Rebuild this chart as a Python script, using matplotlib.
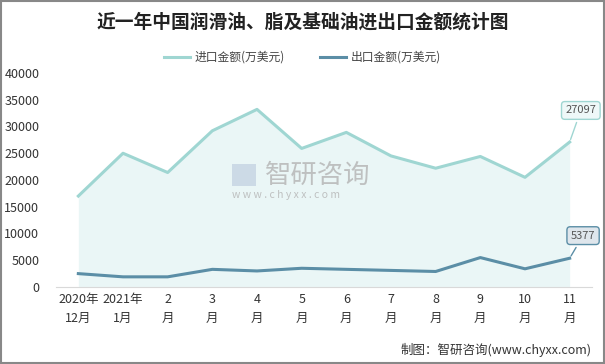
import matplotlib
matplotlib.use("Agg")
import matplotlib.pyplot as plt
from matplotlib.patches import Rectangle

plt.rcParams['font.family'] = ['Noto Sans CJK SC', 'DejaVu Sans']

categories = ["2020年\n12月", "2021年\n1月", "2\n月", "3\n月", "4\n月", "5\n月",
              "6\n月", "7\n月", "8\n月", "9\n月", "10\n月", "11\n月"]
import_vals = [17000, 25000, 21400, 29200, 33200, 25900, 28900, 24500, 22200, 24400, 20500, 27097]
export_vals = [2500, 1900, 1900, 3300, 3000, 3500, 3300, 3100, 2900, 5500, 3400, 5377]
yticks = [0, 5000, 10000, 15000, 20000, 25000, 30000, 35000, 40000]

c_imp = "#9fd6d2"
c_fill = "#eaf6f6"
c_exp = "#5b8ea6"

fig = plt.figure(figsize=(6.05, 3.64), dpi=100)
ax = fig.add_axes([56/605, (364-287)/364, (592-56)/605, (287-73)/364])
x = list(range(len(categories)))

ax.fill_between(x, import_vals, 0, color=c_fill, lw=0, zorder=1)
ax.plot(x, import_vals, color=c_imp, lw=2.2, label="进口金额(万美元)", zorder=3)
ax.plot(x, export_vals, color=c_exp, lw=2.2, label="出口金额(万美元)", zorder=3)

ax.set_xlim(-0.5, len(categories) - 0.5)
ax.set_ylim(0, 40000)
ax.set_yticks(yticks)
ax.set_yticklabels([str(v) for v in yticks], fontsize=9, color="#333333")
ax.set_xticks(x)
ax.set_xticklabels(categories, fontsize=9, color="#333333", linespacing=1.6)
ax.tick_params(length=0, pad=4)
ax.tick_params(axis='y', pad=12)
for s in ["top", "right", "left"]:
    ax.spines[s].set_visible(False)
ax.spines["bottom"].set_color("#d9d9d9")

# callouts
ax.annotate(str(import_vals[-1]), xy=(x[-1], import_vals[-1]), xytext=(x[-1] + 0.25, 33000),
            ha="center", va="center", fontsize=8, color="#555555",
            bbox=dict(boxstyle="round,pad=0.35,rounding_size=0.3", fc="#eef8f8", ec=c_imp, lw=1),
            arrowprops=dict(arrowstyle="-", color=c_imp, lw=1), zorder=5)
ax.annotate(str(export_vals[-1]), xy=(x[-1], export_vals[-1]), xytext=(x[-1] + 0.3, 9600),
            ha="center", va="center", fontsize=8, color="#555555",
            bbox=dict(boxstyle="round,pad=0.35,rounding_size=0.3", fc="#dfe6ec", ec=c_exp, lw=1),
            arrowprops=dict(arrowstyle="-", color=c_exp, lw=1), zorder=5)

# watermark
fig.text(265/605, 1 - 175/364, "智研咨询", fontsize=19, color="#b3b3b3", alpha=0.8, ha="left", va="center")
fig.text(232/605, 1 - 195/364, "w w w . c h y x x . c o m", fontsize=7.5, color="#b3b3b3", alpha=0.8, ha="left", va="center")
fig.patches.append(Rectangle((232/605, 1 - 186/364), 24/605, 22/364, transform=fig.transFigure,
                             fc="#c5d3e3", ec="none", alpha=0.8))

fig.text(0.5, 0.94, "近一年中国润滑油、脂及基础油进出口金额统计图", fontsize=13.5,
         fontweight="bold", ha="center", va="center", color="#222222")
leg = fig.legend(loc="center", bbox_to_anchor=(0.5, 0.842), ncol=2, frameon=False,
                 fontsize=8.5, handlelength=2.2, columnspacing=3, handletextpad=0.4)
for t in leg.get_texts():
    t.set_color("#444444")

fig.text(592/605, 14/364, "制图：智研咨询(www.chyxx.com)", fontsize=9,
         ha="right", va="center", color="#333333")

fig.patches.append(Rectangle((0.001, 0.002), 0.997, 0.995, transform=fig.transFigure,
                             fill=False, ec="#888888", lw=1.5))

fig.savefig("out.png", dpi=100)
